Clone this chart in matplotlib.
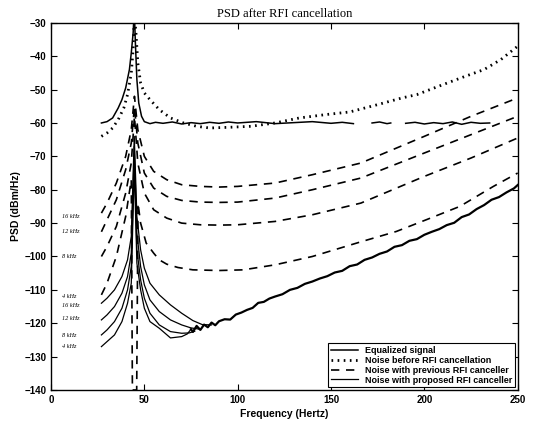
import numpy as np
import matplotlib
matplotlib.use("Agg")
import matplotlib.pyplot as plt

# ---- data ----
nan = np.nan

# Equalized signal (flat at -60 with the RFI peak, gaps as in the original)
eq_f = [27, 30, 33, 36, 38, 40, 42, 43, 44, 44.6, 45.2, 46, 47, 48.5, 50, 53, 56, 60, 65, 70, 75, 80,
        85, 90, 95, 100, 110, 120, 130, 140, 150, 156, 162, 163, 172, 176, 180, 182, 183, 190, 195,
        200, 205, 210, 215, 220, 225, 230, 235]
eq_p = [-60.0, -59.6, -58.5, -55.5, -53, -49.5, -44, -39, -33, -26, -36, -47, -54, -58, -59.6, -60.2,
        -59.8, -60.1, -59.7, -60.3, -59.9, -60.2, -59.8, -60.1, -59.7, -60.0, -59.6, -60.2, -59.9, -59.6,
        -60.1, -59.8, -60.2, nan, -60.0, -59.7, -60.2, -60.0, nan, -60.1, -59.8, -60.3, -59.9, -60.2,
        -59.7, -60.4, -59.8, -60.1, -60.0]

# Noise before RFI cancellation
before_f = [27, 30, 33, 36, 39, 41, 43, 44, 44.6, 45.4, 46.5, 48, 50, 53, 58, 64, 71, 78, 85, 95, 107,
            120, 133, 147, 160, 175, 188, 196, 210, 222, 232, 241, 250]
before_p = [-64, -63, -61.5, -59, -55.5, -51.5, -45, -38, -28, -32, -42, -48, -51, -53, -56, -58.5, -60,
            -61, -61.5, -61.3, -61, -60, -58.5, -57.5, -56.7, -54.5, -52.5, -51.5, -48.5, -46, -44, -41,
            -37]

# Noise with previous RFI canceller (dashed), one curve per sampling rate
prev_f = [27, 30, 35, 40, 43, 44.7, 46.5, 50, 55, 62, 70, 80, 90, 100, 120, 140, 166, 200, 225, 250]
prev_16k = [-87, -84, -78, -70, -62, -52, -62, -70, -74.5, -77, -78.5, -79, -79.2, -79, -78, -75.5, -72,
            -64, -58, -52.5]
prev_12k = [-92.6, -89, -83, -74, -66, -55, -66, -75, -79.5, -82, -83.2, -83.7, -83.8, -83.7, -82.5, -80,
            -76.5, -69, -63.5, -58]
prev_8k = [-100, -97, -91, -81, -72, -58, -72, -81, -86, -88.5, -90, -90.5, -90.6, -90.5, -89.5, -87.5,
           -84, -76, -70.5, -64.5]
prev4_f = [27, 30, 35, 40, 43, 43.6, 45.9, 46.6, 48, 51, 55, 58, 62, 68, 76, 90, 103, 120, 140, 166, 185,
           201, 219, 237, 250]
prev_4k = [-111.5, -108, -100, -88, -77, -140, -140, -84, -90, -96, -99, -101, -102.3, -103.3, -104,
           -104.2, -104, -102.5, -100, -95.6, -92.5, -89, -85, -79, -75]

# Noise with proposed RFI canceller (solid), each ends on the noise floor
prop_f = [27, 30, 34, 38, 41, 43, 44.6, 46, 48, 50, 53, 58, 64, 70]
prop_16k = [-114, -112.5, -110, -106, -101, -94, -64, -88, -98, -103.5, -108, -111.5, -114.5, -117]
prop_12k = [-119, -117.5, -115, -111, -106, -99, -67, -93, -103, -108.5, -113, -116.5, -119, -120.5]
prop_8k = [-123.5, -122, -119.5, -115.5, -110, -103, -70, -98, -107, -112.5, -117, -120.5, -122.5, -123]
prop_4k = [-127, -125.5, -123.5, -119.5, -114, -108, -73, -102, -110, -115.5, -119.5, -121.5, -124.4,
           -124]
tail_f = [[76, 81, 86], [75, 80], [74, 77], [73, 75]]
tail_p = [[-119.2, -120.4, -120.5], [-121.4, -121.8], [-122.9, -122.4], [-123.2, -121.8]]

floor_f = [75, 76, 78, 80, 82, 84, 86, 88, 90, 93, 96, 99, 102, 105, 108, 111, 114, 117, 120,
           124, 128, 132, 136, 140, 144, 148, 152, 156, 160, 164, 168, 172, 176, 180, 184, 188, 192,
           196, 200, 204, 208, 212, 216, 220, 224, 228, 232, 236, 240, 244, 248, 250]
floor_p = [-121.8, -122.6, -120.8, -122.0, -120.4, -121.2, -119.8, -120.6, -119.4,
           -118.8, -118.9, -117.4, -116.8, -116.0, -115.4, -113.9, -113.6, -112.6, -112.0, -111.3,
           -110.0, -109.4, -108.2, -107.5, -106.6, -105.9, -104.8, -104.3, -102.9, -102.4, -101.0,
           -100.3, -99.2, -98.5, -97.1, -96.6, -95.3, -94.8, -93.5, -92.6, -91.8, -90.6, -89.9,
           -88.2, -87.4, -85.8, -84.6, -83.0, -82.2, -80.8, -79.6, -78.6]

rate_labels = ["16 kHz", "12 kHz", "8 kHz", "4 kHz", "16 kHz", "12 kHz", "8 kHz", "4 kHz"]
rate_label_y = [-88, -92.5, -100, -112, -114.8, -118.6, -123.8, -127]

# ---- plot ----
fig = plt.figure(figsize=(5.37, 4.23), dpi=100)
ax = fig.add_axes([0.095, 0.078, 0.869, 0.868])

ax.plot(eq_f, eq_p, color='black', lw=1.1, label='Equalized signal')
ax.plot(before_f, before_p, color='black', lw=2.0, linestyle=(0, (0.6, 1.6)),
        label='Noise before RFI cancellation')

dash = (0, (5, 4))
ax.plot(prev_f, prev_16k, color='black', lw=1.2, linestyle=dash, label='Noise with previous RFI canceller')
for p in [prev_12k, prev_8k]:
    ax.plot(prev_f, p, color='black', lw=1.2, linestyle=dash)
ax.plot(prev4_f, prev_4k, color='black', lw=1.2, linestyle=dash)

first = True
for p, tf, tp in zip([prop_16k, prop_12k, prop_8k, prop_4k], tail_f, tail_p):
    ax.plot(prop_f + tf, p + tp, color='black', lw=0.9,
            label='Noise with proposed RFI canceller' if first else None)
    first = False
ax.plot(floor_f, floor_p, color='black', lw=1.6)

for txt, yv in zip(rate_labels, rate_label_y):
    ax.text(6, yv, txt, fontsize=4.5, style='italic', family='Liberation Serif', va='center')

ax.set_xlim(0, 250)
ax.set_ylim(-140, -30)
ax.set_xticks([0, 50, 100, 150, 200, 250])
ax.set_yticks(np.arange(-140, -29, 10))
ax.tick_params(direction='in', top=True, right=True, length=4, width=0.8, labelsize=7)
for lab in ax.get_xticklabels() + ax.get_yticklabels():
    lab.set_fontweight('bold')
    lab.set_family('Liberation Sans')
for s in ax.spines.values():
    s.set_linewidth(1.0)

ax.set_title('PSD after RFI cancellation', family='Liberation Serif', fontsize=9, pad=4)
ax.set_xlabel('Frequency (Hertz)', family='Liberation Sans', fontweight='bold', fontsize=7.5, labelpad=3)
ax.set_ylabel('PSD (dBm/Hz)', family='Liberation Sans', fontweight='bold', fontsize=7.5, labelpad=2)

leg = ax.legend(loc='lower right', prop={'family': 'Liberation Sans', 'weight': 'bold', 'size': 6.5},
                handlelength=3, borderpad=0.3, labelspacing=0.1, handletextpad=0.8,
                fancybox=False, framealpha=1, edgecolor='black', borderaxespad=0.3)
leg.get_frame().set_linewidth(0.8)

fig.savefig('out.png', dpi=100)
